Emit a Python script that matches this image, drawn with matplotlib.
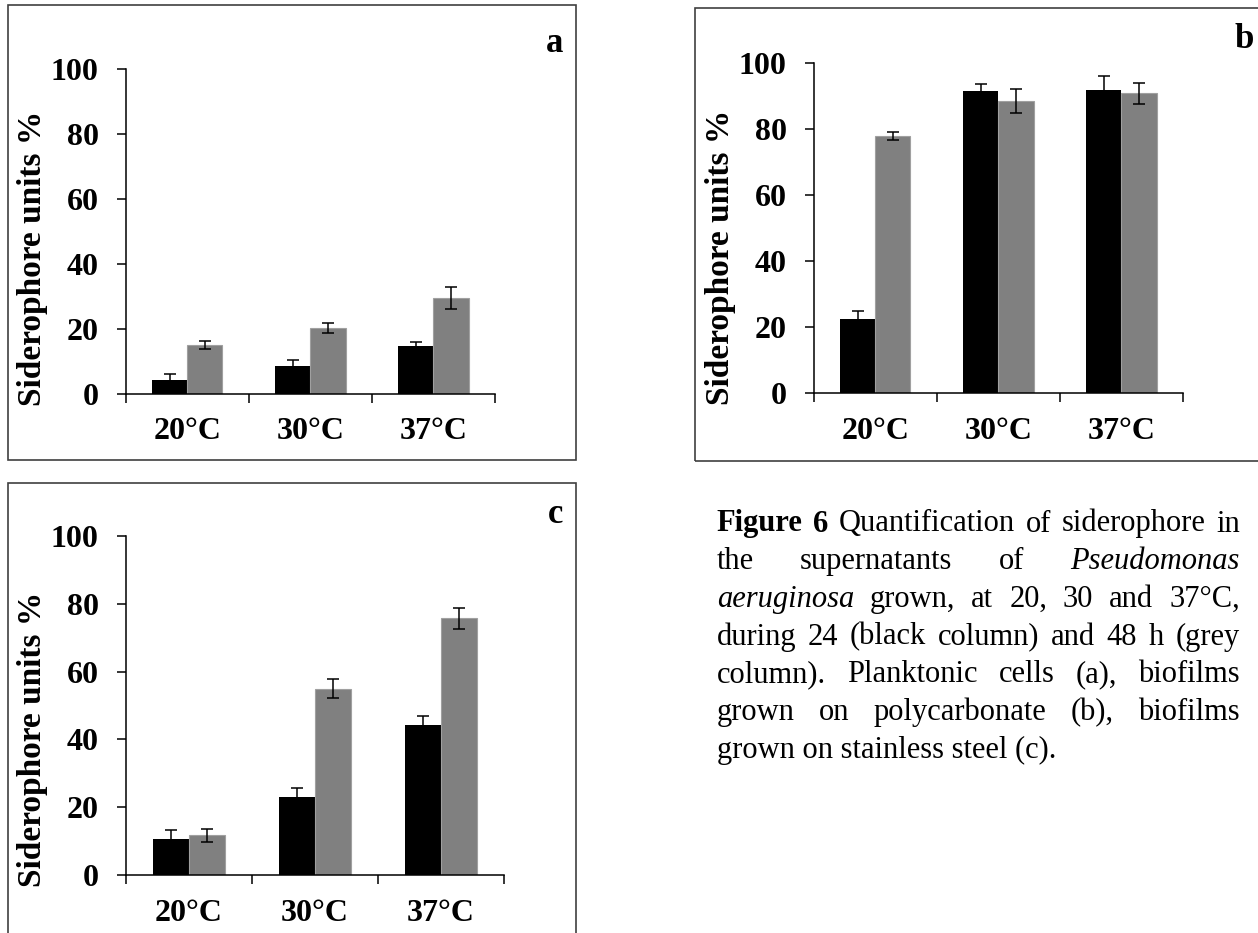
"""Figure 6: siderophore units at three temperatures, three growth conditions."""

import matplotlib
matplotlib.use("Agg")
import matplotlib.pyplot as plt
from matplotlib.patches import Rectangle
import numpy as np

plt.rcParams.update({
    "font.family": ["Liberation Serif", "DejaVu Serif"],
    "font.weight": "bold",
})

W, H = 1258, 933

temps = ["20°C", "30°C", "37°C"]

# a: planktonic cells
plank_24 = [4.2, 8.4, 14.8]
plank_24_err = [1.9, 1.9, 1.1]
plank_48 = [15.0, 20.2, 29.5]
plank_48_err = [1.3, 1.6, 3.3]

# b: biofilms on polycarbonate
poly_24 = [22.6, 91.6, 91.9]
poly_24_err = [2.4, 2.0, 4.2]
poly_48 = [78.1, 88.5, 90.9]
poly_48_err = [1.2, 3.6, 3.2]

# c: biofilms on stainless steel
steel_24 = [10.5, 23.1, 44.2]
steel_24_err = [2.7, 2.6, 2.8]
steel_48 = [11.7, 55.0, 75.8]
steel_48_err = [2.0, 2.9, 3.1]

caption_lines = [
    [("Figure", "bold"), ("6", "bold"), ("Quantification", ""), ("of", ""),
     ("siderophore", ""), ("in", "")],
    [("the", ""), ("supernatants", ""), ("of", ""), ("Pseudomonas", "italic")],
    [("aeruginosa", "italic"), ("grown,", ""), ("at", ""), ("20,", ""), ("30", ""),
     ("and", ""), ("37°C,", "")],
    [("during", ""), ("24", ""), ("(black", ""), ("column)", ""), ("and", ""),
     ("48", ""), ("h", ""), ("(grey", "")],
    [("column).", ""), ("Planktonic", ""), ("cells", ""), ("(a),", ""), ("biofilms", "")],
    [("grown", ""), ("on", ""), ("polycarbonate", ""), ("(b),", ""), ("biofilms", "")],
    [("grown on stainless steel (c).", "")],
]


def fx(x):
    return x / W


def fy(y):
    return 1 - y / H


def draw_panel(fig, axis_px, frame_px, letter, letter_px, d24, e24, d48, e48):
    left, right, top, bottom = axis_px
    ax = fig.add_axes([fx(left), fy(bottom), (right - left) / W, (bottom - top) / H])

    x = np.arange(len(temps))
    w = 1 / 3.5
    err_kw = dict(elinewidth=1.1, capthick=1.1, ecolor="black")
    ax.bar(x - w / 2, d24, w, color="black", yerr=e24, capsize=4, error_kw=err_kw)
    ax.bar(x + w / 2, d48, w, color="#808080", edgecolor="#a0a0a0", linewidth=0.8,
           yerr=e48, capsize=4, error_kw=err_kw)

    ax.set_xlim(-0.5, 2.5)
    ax.set_ylim(0, 100)
    ax.set_yticks(np.arange(0, 101, 20))
    ax.set_xticks([-0.5, 0.5, 1.5, 2.5])
    ax.set_xticklabels([])
    ax.set_xticks(x, minor=True)
    ax.set_xticklabels(temps, minor=True)
    ax.tick_params(axis="both", which="major", direction="out", length=6.5, width=1.1,
                   labelsize=23)
    ax.tick_params(axis="y", pad=13)
    ax.tick_params(axis="x", which="minor", length=0, pad=17, labelsize=23)
    for s in ["top", "right"]:
        ax.spines[s].set_visible(False)
    for s in ["left", "bottom"]:
        ax.spines[s].set_linewidth(1.1)
    for lab in ax.get_yticklabels() + ax.get_xticklabels(minor=True):
        lab.set_fontweight("bold")

    fig.text(fx(left - 93), fy(bottom + 12), "Siderophore units %", rotation=90,
             ha="center", va="bottom", fontsize=24, fontweight="bold")

    fl, fr, ft, fb = frame_px
    fig.patches.append(Rectangle((fx(fl), fy(fb)), (fr - fl) / W, (fb - ft) / H,
                                 transform=fig.transFigure, fill=False,
                                 edgecolor="#404040", linewidth=1.2))
    fig.text(fx(letter_px[0]), fy(letter_px[1]), letter, ha="center", va="baseline",
             fontsize=25, fontweight="bold")
    return ax


fig = plt.figure(figsize=(W / 100, H / 100), dpi=100)

draw_panel(fig, (125.7, 495, 69.3, 393.7), (8, 576, 5, 460), "a", (555, 51.5),
           plank_24, plank_24_err, plank_48, plank_48_err)
draw_panel(fig, (813.7, 1183, 63.3, 393.3), (695, 1262, 8, 461), "b", (1244, 48),
           poly_24, poly_24_err, poly_48, poly_48_err)
draw_panel(fig, (125.7, 504, 536, 875), (8, 576, 483, 940), "c", (556, 523),
           steel_24, steel_24_err, steel_48, steel_48_err)

# justified caption, placed word by word
cap_left, cap_right = 716.7, 1240
base0, pitch = 531.5, 37.7
renderer = fig.canvas.get_renderer()
for i, line in enumerate(caption_lines):
    y = base0 + i * pitch
    texts = []
    for word, style in line:
        t = fig.text(0, fy(y), word, fontsize=22, va="baseline", ha="left",
                     fontweight="bold" if style == "bold" else "normal",
                     fontstyle="italic" if style == "italic" else "normal")
        texts.append(t)
    widths = [t.get_window_extent(renderer).width for t in texts]
    if len(texts) > 1:
        gap = (cap_right - cap_left - sum(widths)) / (len(texts) - 1)
    else:
        gap = 0
    xpos = cap_left
    for t, wd in zip(texts, widths):
        t.set_x(fx(xpos))
        xpos += wd + gap

fig.savefig("out.png", dpi=100)
